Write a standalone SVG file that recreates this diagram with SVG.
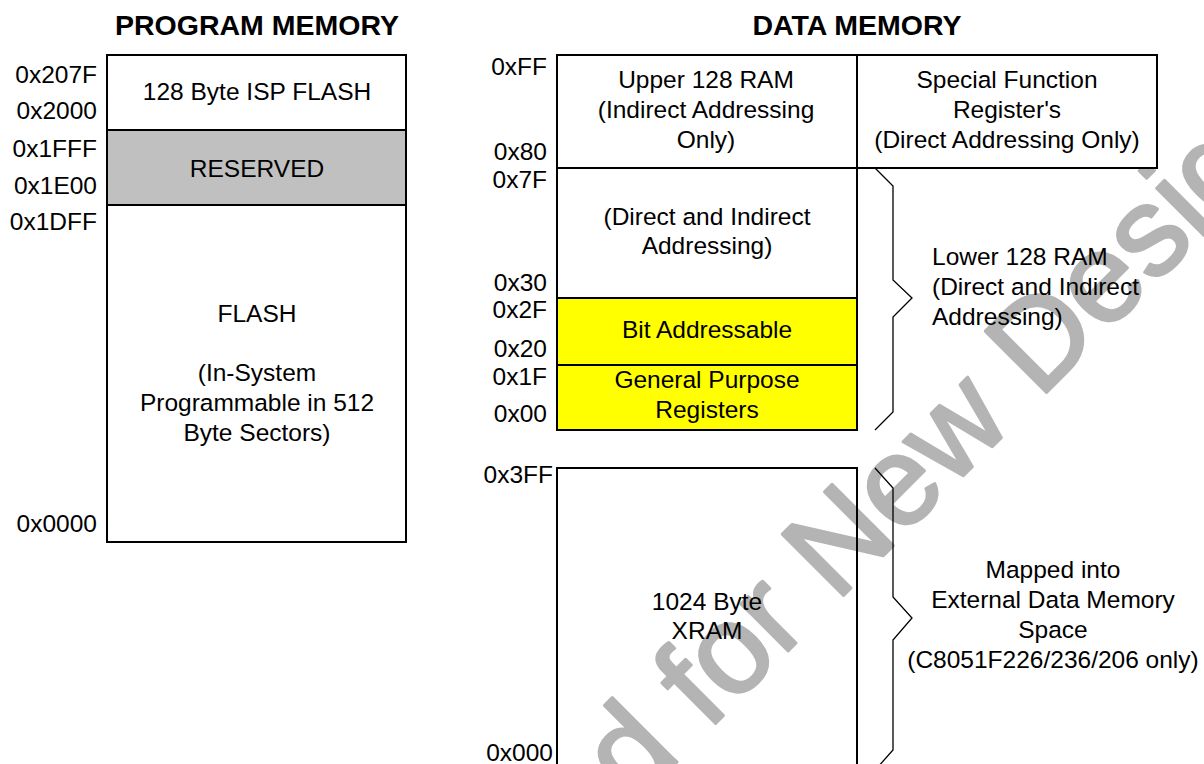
<svg xmlns="http://www.w3.org/2000/svg" width="1204" height="764" viewBox="0 0 1204 764">
<style>
text{font-family:"Liberation Sans",Arial,sans-serif;fill:#000}
.t{font-size:24.5px}
.c{text-anchor:middle}
.r{text-anchor:end}
.h{font-size:28.5px;font-weight:bold;text-anchor:middle}
.box{fill:none;stroke:#000;stroke-width:2}
.brace{fill:none;stroke:#000;stroke-width:1.3}
.wm{font-size:126px;fill:#b4b4b4;stroke:#b4b4b4;stroke-width:3;stroke-linejoin:round;text-anchor:middle}
</style>
<rect width="1204" height="764" fill="#fff"/>
<g id="watermark" transform="translate(616,823) rotate(-45)">
<text class="wm" x="0" y="0">Not Recommended for New Design</text>
</g>
<text class="h" x="257" y="35">PROGRAM MEMORY</text>
<text class="h" x="857" y="35">DATA MEMORY</text>
<g id="isp-flash">
<rect class="box" x="107" y="55" width="299" height="75" fill="#fff"/>
<text class="t c" x="257" y="100">128 Byte ISP FLASH</text>
</g>
<g id="reserved">
<rect x="107" y="130" width="299" height="75" fill="#c0c0c0" stroke="#000" stroke-width="2"/>
<text class="t c" x="257" y="177">RESERVED</text>
</g>
<g id="flash">
<rect class="box" x="107" y="205" width="299" height="337"/>
<text class="t c" x="257" y="322">FLASH</text>
<text class="t c" x="257" y="381">(In-System</text>
<text class="t c" x="257" y="411">Programmable in 512</text>
<text class="t c" x="257" y="441">Byte Sectors)</text>
</g>
<g id="prog-addr">
<text class="t r" x="97" y="83">0x207F</text>
<text class="t r" x="97" y="119">0x2000</text>
<text class="t r" x="97" y="157">0x1FFF</text>
<text class="t r" x="97" y="194">0x1E00</text>
<text class="t r" x="97" y="230">0x1DFF</text>
<text class="t r" x="97" y="532">0x0000</text>
</g>
<g id="upper-ram">
<rect x="557" y="55" width="300" height="113" fill="#fff" stroke="#000" stroke-width="2"/>
<text class="t c" x="706" y="88">Upper 128 RAM</text>
<text class="t c" x="706" y="118">(Indirect Addressing</text>
<text class="t c" x="706" y="148">Only)</text>
</g>
<g id="sfr">
<rect x="857" y="55" width="300" height="113" fill="#fff" stroke="#000" stroke-width="2"/>
<text class="t c" x="1007" y="88">Special Function</text>
<text class="t c" x="1007" y="118">Register's</text>
<text class="t c" x="1007" y="148">(Direct Addressing Only)</text>
</g>
<g id="direct-indirect">
<rect class="box" x="557" y="168" width="300" height="130"/>
<text class="t c" x="707" y="225">(Direct and Indirect</text>
<text class="t c" x="707" y="254">Addressing)</text>
</g>
<g id="bit-addressable">
<rect x="557" y="298" width="300" height="67" fill="#ffff00" stroke="#000" stroke-width="2"/>
<text class="t c" x="707" y="338">Bit Addressable</text>
</g>
<g id="gp-registers">
<rect x="557" y="365" width="300" height="65" fill="#ffff00" stroke="#000" stroke-width="2"/>
<text class="t c" x="707" y="388">General Purpose</text>
<text class="t c" x="707" y="418">Registers</text>
</g>
<g id="xram">
<path class="box" d="M557,800 V468 H857 V800"/>
<text class="t c" x="707" y="610">1024 Byte</text>
<text class="t c" x="707" y="639">XRAM</text>
</g>
<g id="data-addr">
<text class="t r" x="547" y="75">0xFF</text>
<text class="t r" x="547" y="160">0x80</text>
<text class="t r" x="547" y="188">0x7F</text>
<text class="t r" x="547" y="291">0x30</text>
<text class="t r" x="547" y="318">0x2F</text>
<text class="t r" x="547" y="357">0x20</text>
<text class="t r" x="547" y="385">0x1F</text>
<text class="t r" x="547" y="422">0x00</text>
<text class="t r" x="553" y="483">0x3FF</text>
<text class="t r" x="553" y="761">0x000</text>
</g>
<g id="connectors">
<path class="brace" d="M875,168 L893,186 V280 L912,298 L893,317 V412 L875,430"/>
<path class="brace" d="M875,468 L893,488 V597 L912,618 L893,640 V750 L877,768"/>
</g>
<g id="lower-ram-label">
<text class="t" x="932" y="265">Lower 128 RAM</text>
<text class="t" x="932" y="295">(Direct and Indirect</text>
<text class="t" x="932" y="325">Addressing)</text>
</g>
<g id="xram-label">
<text class="t c" x="1053" y="578">Mapped into</text>
<text class="t c" x="1053" y="608">External Data Memory</text>
<text class="t c" x="1053" y="638">Space</text>
<text class="t c" x="1053" y="668">(C8051F226/236/206 only)</text>
</g>
</svg>
